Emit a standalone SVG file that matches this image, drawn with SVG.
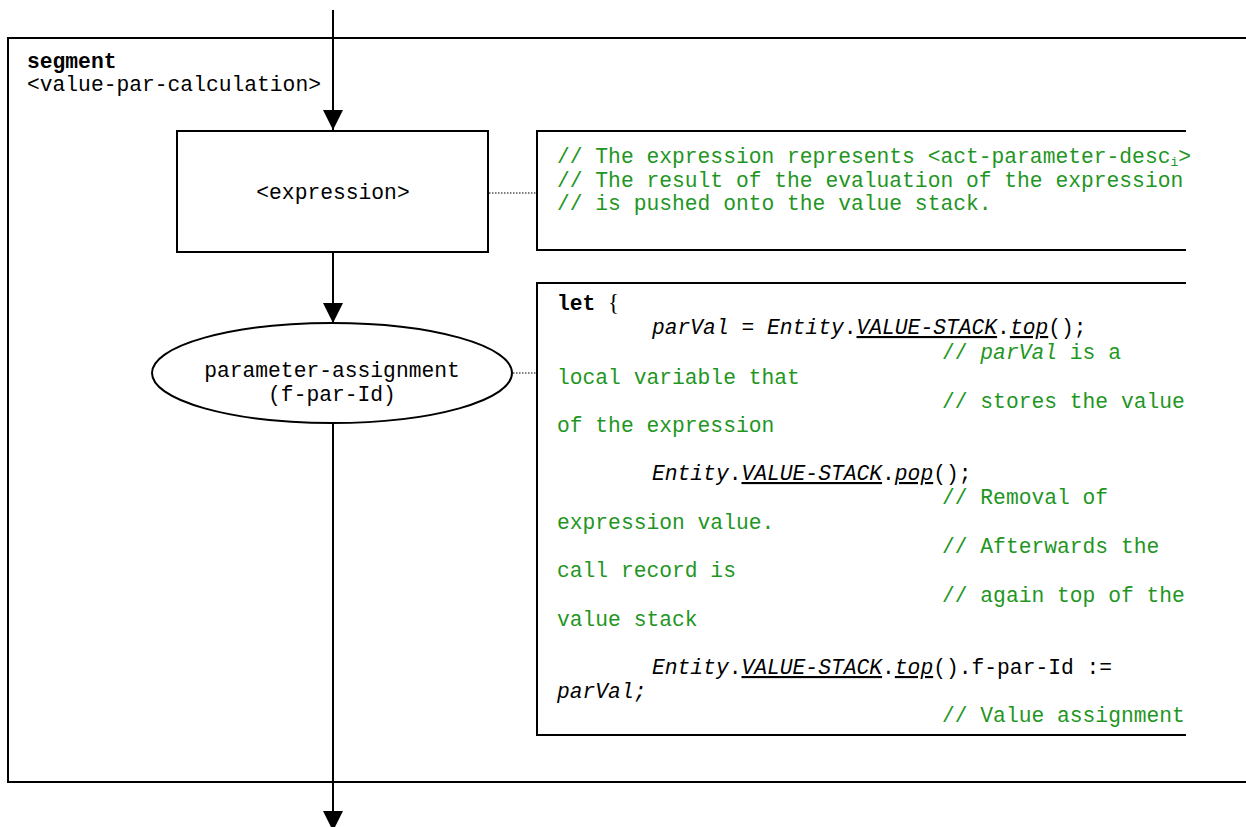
<svg xmlns="http://www.w3.org/2000/svg" width="1246" height="827" viewBox="0 0 1246 827">
<style>
text{font-family:"Liberation Mono","Courier New",monospace;font-size:21.3px;fill:#000;white-space:pre}
.c{fill:#1f961f}
.i{font-style:italic}
.u{text-decoration:underline}
.b{font-weight:bold}
.shape{fill:#fff;stroke:#000;stroke-width:2}
.edge{fill:none;stroke:#000;stroke-width:2}
.dot{fill:none;stroke:#000;stroke-width:1.2;stroke-dasharray:1.5 1.5}
</style>
<defs>
<marker id="ah" viewBox="0 0 20 20" refX="20" refY="10" markerWidth="20" markerHeight="20" markerUnits="userSpaceOnUse" orient="auto">
<path d="M0,0 L20,10 L0,20 Z" fill="#000"/>
</marker>
</defs>
<rect width="1246" height="827" fill="#fff"/>
<g id="frame">
<path d="M1246,38 H8 V782 H1246" fill="none" stroke="#000" stroke-width="2"/>
<text x="27" y="68" class="b">segment</text>
<text x="27" y="91">&lt;value-par-calculation&gt;</text>
</g>
<g id="connectors">
<line class="edge" x1="333" y1="10" x2="333" y2="130" marker-end="url(#ah)"/>
<line class="edge" x1="333" y1="252" x2="333" y2="323" marker-end="url(#ah)"/>
<line class="edge" x1="333" y1="423" x2="333" y2="831" marker-end="url(#ah)"/>
<line class="dot" x1="489" y1="193" x2="537" y2="193"/>
<line class="dot" x1="513" y1="373" x2="537" y2="373"/>
</g>
<g id="expression">
<rect class="shape" x="177" y="131" width="311" height="121"/>
<text x="333" y="199" text-anchor="middle">&lt;expression&gt;</text>
</g>
<g id="parameter-assignment">
<ellipse class="shape" cx="332" cy="373" rx="180" ry="50"/>
<text x="332" y="377" text-anchor="middle">parameter-assignment</text>
<text x="332" y="401" text-anchor="middle">(f-par-Id)</text>
</g>
<g id="comment1">
<path d="M1186,131 H537 V250 H1186" fill="none" stroke="#000" stroke-width="2"/>
<text x="557" y="163" class="c">// The expression represents &lt;act-parameter-desc<tspan font-size="13" dy="3">i</tspan><tspan dy="-3">&gt;</tspan></text>
<text x="557" y="187" class="c">// The result of the evaluation of the expression</text>
<text x="557" y="210" class="c">// is pushed onto the value stack.</text>
</g>
<g id="comment2">
<path d="M1186,283 H537 V735 H1186" fill="none" stroke="#000" stroke-width="2"/>
<text x="557" y="310"><tspan class="b">let</tspan><tspan x="608" font-family="Liberation Serif,serif" font-size="23">{</tspan></text>
<text x="652" y="334"><tspan class="i">parVal</tspan> = <tspan class="i">Entity</tspan>.<tspan class="i u">VALUE-STACK</tspan>.<tspan class="i u">top</tspan>();</text>
<text x="942" y="359" class="c">// <tspan class="i">parVal</tspan> is a</text>
<text x="557" y="384" class="c">local variable that</text>
<text x="942" y="408" class="c">// stores the value</text>
<text x="557" y="432" class="c">of the expression</text>
<text x="652" y="480"><tspan class="i">Entity</tspan>.<tspan class="i u">VALUE-STACK</tspan>.<tspan class="i u">pop</tspan>();</text>
<text x="942" y="504" class="c">// Removal of</text>
<text x="557" y="529" class="c">expression value.</text>
<text x="942" y="553" class="c">// Afterwards the</text>
<text x="557" y="577" class="c">call record is</text>
<text x="942" y="602" class="c">// again top of the</text>
<text x="557" y="626" class="c">value stack</text>
<text x="652" y="674"><tspan class="i">Entity</tspan>.<tspan class="i u">VALUE-STACK</tspan>.<tspan class="i u">top</tspan>().f-par-Id :=</text>
<text x="557" y="698" class="i">parVal;</text>
<text x="942" y="722" class="c">// Value assignment</text>
</g>
</svg>
